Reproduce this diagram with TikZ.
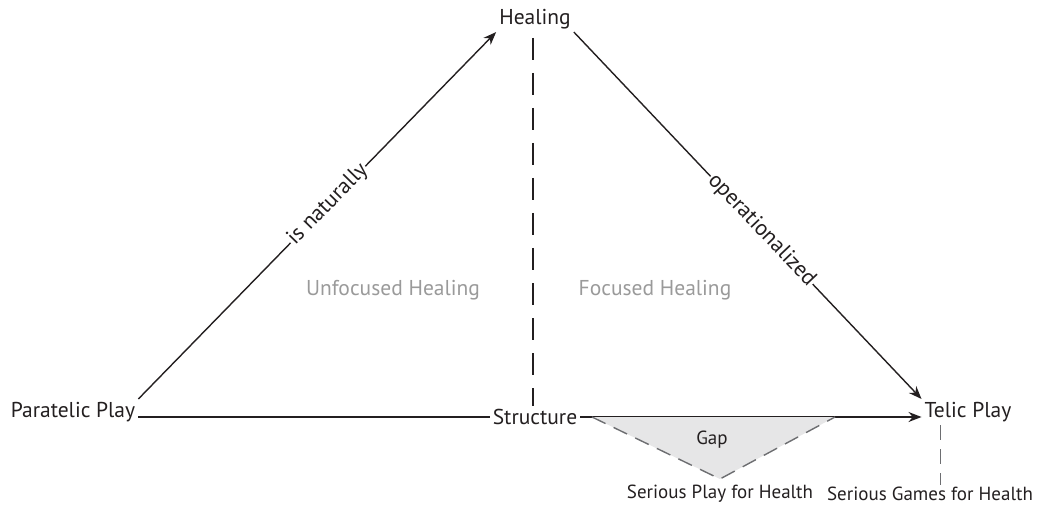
\documentclass[tikz,border=0pt]{standalone}
\usepackage{fontspec}
\setmainfont{PT Sans}
\usetikzlibrary{arrows.meta}
\definecolor{ink}{HTML}{231F20}
\definecolor{faded}{HTML}{9A9A9A}
\definecolor{gapfill}{HTML}{E6E6E7}
\definecolor{gapline}{HTML}{6D6E71}
\tikzset{
  term/.style={text=ink,font=\fontsize{21.5}{24}\selectfont,inner sep=3pt},
  small/.style={text=ink,font=\fontsize{19}{22}\selectfont,inner sep=2pt},
  region/.style={text=faded,font=\fontsize{21.5}{24}\selectfont},
  link/.style={draw=ink,line width=1.4pt,->},
  tag/.style={sloped,fill=white,text=ink,font=\fontsize{22}{24}\selectfont,inner sep=1pt},
  divider/.style={draw=ink,line width=1.8pt,dash pattern=on 22pt off 13pt},
  gapside/.style={draw=gapline,line width=1.4pt,dash pattern=on 15pt off 9pt}
}
\begin{document}
\begin{tikzpicture}[x=1pt,y=1pt,>={Stealth[length=13pt,width=10pt]}]
  \useasboundingbox (0,0) rectangle (1037,507);
  % Begriffe
  \node[term] (healing) at (535,488) {Healing};
  \node[term] (paratelic) at (73,95) {Paratelic Play};
  \node[term] (structure) at (535,90) {Structure};
  \node[term] (telic) at (968,95) {Telic Play};
  % Bereiche
  \node[region] (unfocused) at (393,217) {Unfocused Healing};
  \node[region] (focused) at (655,217) {Focused Healing};
  % Trennlinie
  \coordinate (divtop) at (533,469);
  \draw[divider] (divtop) -- (structure.north -| divtop);
  % Pfeile
  \draw[link] (paratelic.north east) -- (healing.south west) node[tag,pos=0.53] {is naturally};
  \draw[link] (healing.south east) -- (telic.north west) node[tag,pos=0.54] {operationalized};
  \draw[draw=ink,line width=1.4pt] (paratelic.east |- structure) -- (structure.west);
  \draw[link] (structure.east) -- (telic.west |- structure);
  % Gap
  \coordinate (gapL) at (592,90);
  \coordinate (gapR) at (835,90);
  \coordinate (gapB) at (720,28);
  \fill[gapfill] (gapL) -- (gapB) -- (gapR) -- cycle;
  \draw[gapside] (gapL) -- (gapB) -- (gapR);
  \node[small] (gap) at (712,67) {Gap};
  \node[small] (seriousplay) at (720,13) {Serious Play for Health};
  \node[small] (seriousgames) at (930,13) {Serious Games for Health};
  \coordinate (sgtop) at ([xshift=10pt]seriousgames.north);
  \draw[gapside,line width=1pt] (telic.south -| sgtop) -- (sgtop);
\end{tikzpicture}
\end{document}
